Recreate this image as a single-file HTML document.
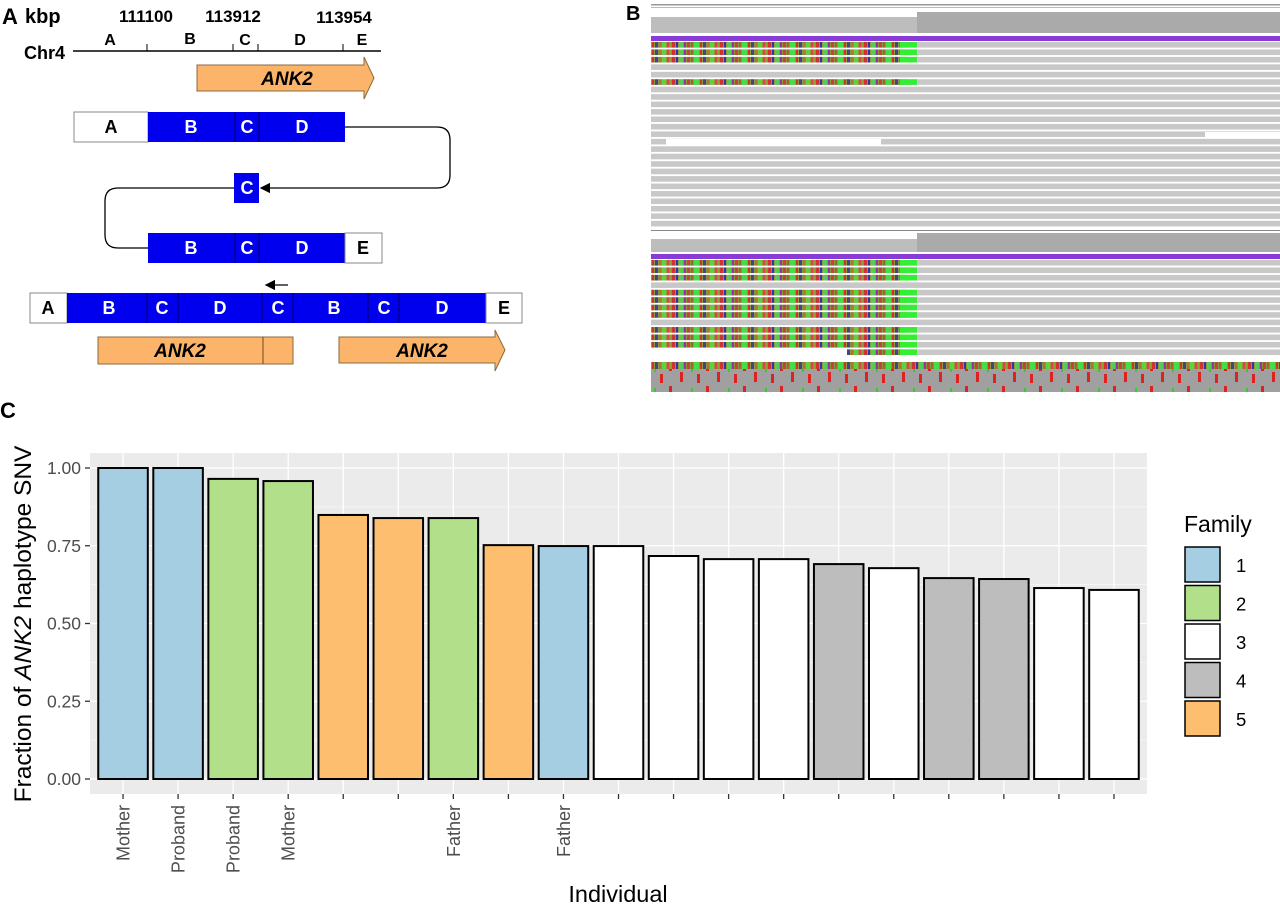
<!DOCTYPE html>
<html><head><meta charset="utf-8"><style>
html,body{margin:0;padding:0;background:#fff;}
svg{display:block;font-family:"Liberation Sans",Arial,sans-serif;}
</style></head><body>
<svg id="fig" width="1280" height="914" viewBox="0 0 1280 914">
<defs>
<pattern id="seq" width="48" height="8" patternUnits="userSpaceOnUse">
<rect width="48" height="8" fill="#8a9a3a"/>
<rect x="0" width="3" height="8" fill="#c33"/><rect x="4" width="2" height="8" fill="#33a"/>
<rect x="7" width="4" height="8" fill="#5c5"/><rect x="12" width="2" height="8" fill="#939"/>
<rect x="15" width="3" height="8" fill="#b44"/><rect x="19" width="2" height="8" fill="#963"/>
<rect x="22" width="5" height="8" fill="#4d4"/><rect x="28" width="2" height="8" fill="#c33"/>
<rect x="31" width="3" height="8" fill="#448"/><rect x="35" width="2" height="8" fill="#a73"/>
<rect x="38" width="4" height="8" fill="#6c4"/><rect x="43" width="2" height="8" fill="#d44"/>
</pattern>
<pattern id="snp" width="37" height="24" patternUnits="userSpaceOnUse">
<rect width="37" height="24" fill="#a0a0a0"/>
<rect x="3" y="2" width="3" height="9" fill="#d22"/><rect x="14" y="12" width="3" height="10" fill="#d22"/>
<rect x="25" y="4" width="2" height="8" fill="#3c3"/><rect x="31" y="14" width="3" height="9" fill="#d22"/>
</pattern>
<marker id="ah" markerWidth="8" markerHeight="8" refX="7" refY="4" orient="auto"><path d="M0,0 L8,4 L0,8 Z" fill="#000"/></marker>
</defs>

<!-- Panel A -->
<g font-weight="bold">
<text x="2" y="24" font-size="22">A</text>
<text x="25" y="23" font-size="20">kbp</text>
<text x="146" y="22" font-size="17" text-anchor="middle">111100</text>
<text x="233" y="22" font-size="17" text-anchor="middle">113912</text>
<text x="344" y="23" font-size="17" text-anchor="middle">113954</text>
<text x="24" y="59" font-size="18">Chr4</text>
<line x1="73" y1="51" x2="381" y2="51" stroke="#000" stroke-width="1.5"/>
<g stroke="#000" stroke-width="1"><line x1="147" y1="44" x2="147" y2="51"/><line x1="233" y1="44" x2="233" y2="51"/><line x1="258" y1="44" x2="258" y2="51"/><line x1="343" y1="44" x2="343" y2="51"/></g>
<g font-size="16" text-anchor="middle"><text x="110" y="45">A</text><text x="190" y="44">B</text><text x="245" y="45">C</text><text x="300" y="45">D</text><text x="362" y="45">E</text></g>
<path d="M197,65 H364 V57 L374,78 L364,99 V91 H197 Z" fill="#fbb469" stroke="#8a6a40"/>
<text x="287" y="85" font-size="19" font-style="italic" text-anchor="middle">ANK2</text>
<g font-size="18" text-anchor="middle">
<rect x="74" y="112" width="74" height="30" fill="#fff" stroke="#888"/>
<rect x="148" y="112" width="197" height="30" fill="#0000ee"/>
<line x1="235" y1="112" x2="235" y2="142" stroke="#000" stroke-width="0.6"/><line x1="259" y1="112" x2="259" y2="142" stroke="#000" stroke-width="0.6"/>
<text x="111" y="133">A</text><text x="191" y="133" fill="#fff">B</text><text x="247" y="133" fill="#fff">C</text><text x="302" y="133" fill="#fff">D</text>
<path d="M345,127 H437 Q450,127 450,140 V175 Q450,188 437,188 H261" fill="none" stroke="#000" stroke-width="1.3" marker-end="url(#ah)"/>
<rect x="234" y="173" width="25" height="30" fill="#0000ee"/><text x="247" y="194" fill="#fff">C</text>
<path d="M234,188 H118 Q105,188 105,201 V235 Q105,248 118,248 H148" fill="none" stroke="#000" stroke-width="1.3"/>
<rect x="148" y="233" width="197" height="30" fill="#0000ee"/>
<rect x="345" y="233" width="37" height="30" fill="#fff" stroke="#888"/>
<line x1="235" y1="233" x2="235" y2="263" stroke="#000" stroke-width="0.6"/><line x1="259" y1="233" x2="259" y2="263" stroke="#000" stroke-width="0.6"/>
<text x="191" y="254" fill="#fff">B</text><text x="247" y="254" fill="#fff">C</text><text x="302" y="254" fill="#fff">D</text><text x="363" y="254">E</text>
<line x1="288" y1="285" x2="266" y2="285" stroke="#000" stroke-width="1.3" marker-end="url(#ah)"/>
<rect x="30" y="293" width="37" height="30" fill="#fff" stroke="#888"/>
<rect x="67" y="293" width="419" height="30" fill="#0000ee"/>
<rect x="486" y="293" width="36" height="30" fill="#fff" stroke="#888"/>
<g stroke="#000" stroke-width="0.6"><line x1="147" y1="293" x2="147" y2="323"/><line x1="178" y1="293" x2="178" y2="323"/><line x1="262" y1="293" x2="262" y2="323"/><line x1="293" y1="293" x2="293" y2="323"/><line x1="368" y1="293" x2="368" y2="323"/><line x1="399" y1="293" x2="399" y2="323"/></g>
<text x="48" y="314">A</text><text x="109" y="314" fill="#fff">B</text><text x="162" y="314" fill="#fff">C</text><text x="220" y="314" fill="#fff">D</text><text x="278" y="314" fill="#fff">C</text><text x="334" y="314" fill="#fff">B</text><text x="384" y="314" fill="#fff">C</text><text x="442" y="314" fill="#fff">D</text><text x="504" y="314">E</text>
</g>
<rect x="98" y="337" width="195" height="27" fill="#fbb469" stroke="#8a6a40"/>
<line x1="263" y1="337" x2="263" y2="364" stroke="#6a4a20"/>
<text x="180" y="357" font-size="19" font-style="italic" text-anchor="middle">ANK2</text>
<path d="M339,337 H495 V330 L505,350 L495,371 V363 H339 Z" fill="#fbb469" stroke="#8a6a40"/>
<text x="422" y="357" font-size="19" font-style="italic" text-anchor="middle">ANK2</text>
</g>

<!-- Panel B -->
<g id="panelB">
<text x="626" y="20" font-size="20" font-weight="bold">B</text>
<rect x="651" y="4" width="629" height="1.5" fill="#999"/><rect x="651" y="7" width="629" height="1" fill="#bbb"/>
<rect x="651" y="17" width="266" height="16" fill="#bdbdbd"/><rect x="917" y="12" width="363" height="21" fill="#aaa"/>
<rect x="651" y="36" width="629" height="5" fill="#8a3ad6"/>
<rect x="651" y="230" width="629" height="1" fill="#888"/>
<rect x="651" y="239" width="266" height="13" fill="#bdbdbd"/><rect x="917" y="233" width="363" height="19" fill="#aaa"/>
<rect x="651" y="254" width="629" height="5" fill="#8a3ad6"/>
<rect x="651" y="362" width="629" height="7" fill="url(#seq)"/>
<rect x="651" y="369" width="629" height="23" fill="url(#snp)"/>
</g>

<!-- Panel C -->
<text x="0" y="418" font-size="22" font-weight="bold">C</text>
<g id="chart"></g>
</svg>
<script>
const categories = ["Mother","Proband","Proband","Mother","","","Father","","Father","","","","","","","","","",""];
const values = [1.0,1.0,0.965,0.958,0.849,0.839,0.839,0.752,0.749,0.749,0.717,0.707,0.707,0.691,0.678,0.646,0.643,0.614,0.608];
const families = [1,1,2,2,5,5,2,5,1,3,3,3,3,4,3,4,4,3,3];
const familyLevels = [1,2,3,4,5];
const familyColors = ["#a6cee3","#b2df8a","#ffffff","#bdbdbd","#fdbf6f"];
const yTicks = [0,0.25,0.5,0.75,1.0];
const yTickLabels = ["0.00","0.25","0.50","0.75","1.00"];

const NS = "http://www.w3.org/2000/svg";
function mk(tag, attrs, parent){const e=document.createElementNS(NS,tag);for(const k in attrs)e.setAttribute(k,attrs[k]);parent.appendChild(e);return e;}

(function(){
  const g=document.getElementById('panelB');
  const topColor=[0,1,2,5];
  for(let i=0;i<25;i++){
    const y=42+i*7.45;
    mk('rect',{x:651,y:y,width:629,height:5.6,fill:'#c8c8c8'},g);
    if(topColor.includes(i)){mk('rect',{x:651,y:y,width:255,height:5.6,fill:'url(#seq)'},g);mk('rect',{x:900,y:y,width:17,height:5.6,fill:'#3e3'},g);}
  }
  mk('rect',{x:666,y:139,width:215,height:6,fill:'#fff'},g);
  mk('rect',{x:1205,y:132,width:75,height:6,fill:'#fff'},g);
  const botColor=[0,1,2,4,5,6,7,9,10,11];
  for(let i=0;i<13;i++){
    const y=260+i*7.45;
    mk('rect',{x:651,y:y,width:629,height:5.6,fill:'#c8c8c8'},g);
    if(botColor.includes(i)){mk('rect',{x:651,y:y,width:255,height:5.6,fill:'url(#seq)'},g);mk('rect',{x:900,y:y,width:17,height:5.6,fill:'#3e3'},g);}
  }
  mk('rect',{x:651,y:349.4,width:196,height:5.6,fill:'#fff'},g);
  mk('rect',{x:847,y:349.4,width:60,height:5.6,fill:'url(#seq)'},g);
  mk('rect',{x:900,y:349.4,width:17,height:5.6,fill:'#3e3'},g);
})();

const chart=document.getElementById('chart');
const pl=90, pr=1147, pt=453, pb=794;
const y0=779, y1=468;
function yScale(v){return y0-(y0-y1)*v;}
const step=(pr-pl)/(categories.length+0.2);
function xScale(i){return pl+step*(0.6+i);}
const bw=step*0.9;

const panel=mk('rect',{x:pl,y:pt,width:pr-pl,height:pb-pt,fill:'#ebebeb'},chart);


for(let k=0;k<yTicks.length-1;k++){
  const v=(yTicks[k]+yTicks[k+1])/2;
  mk('line',{x1:pl,x2:pr,y1:yScale(v),y2:yScale(v),stroke:'#fff','stroke-width':0.6},chart);
}
yTicks.forEach((v,k)=>{
  const y=yScale(v);
  mk('line',{x1:pl,x2:pr,y1:y,y2:y,stroke:'#fff','stroke-width':1.3},chart);
  mk('line',{x1:pl-5,x2:pl,y1:y,y2:y,stroke:'#333','stroke-width':1.3},chart);
  const t=mk('text',{x:pl-9,y:y+6,'text-anchor':'end','font-size':17.5,fill:'#4d4d4d'},chart);
  t.textContent=yTickLabels[k];
  
  
});
categories.forEach((c,i)=>{
  const x=xScale(i);
  mk('line',{x1:x,x2:x,y1:pt,y2:pb,stroke:'#fff','stroke-width':1.3},chart);
  mk('line',{x1:x,x2:x,y1:pb,y2:pb+5,stroke:'#333','stroke-width':1.3},chart);
});
values.forEach((v,i)=>{
  const x=xScale(i);
  const col=familyColors[familyLevels.indexOf(families[i])];
  const r=mk('rect',{x:x-bw/2,y:yScale(v),width:bw,height:yScale(0)-yScale(v),fill:col,stroke:'#000','stroke-width':2},chart);
  
  
  if(categories[i]){
    const t=mk('text',{x:0,y:0,transform:'translate('+(x+6.5)+','+(pb+11)+') rotate(-90)','text-anchor':'end','font-size':18,fill:'#4d4d4d'},chart);
    t.textContent=categories[i];
    
    
  }
});
const yt=mk('text',{x:0,y:0,transform:'translate(31,624) rotate(-90)','text-anchor':'middle','font-size':24.5,fill:'#000'},chart);
yt.innerHTML='Fraction of <tspan font-style="italic">ANK2</tspan> haplotype SNV';


const xt=mk('text',{x:618,y:902,'text-anchor':'middle','font-size':23.5,fill:'#000'},chart);
xt.textContent='Individual';


const lt=mk('text',{x:1184,y:532,'font-size':23,fill:'#000'},chart);
lt.textContent='Family';


familyLevels.forEach((f,k)=>{
  const y=547+k*38.5;
  const r=mk('rect',{x:1185,y:y,width:35,height:35,fill:familyColors[k],stroke:'#000','stroke-width':1.5},chart);
  
  
  const t=mk('text',{x:1236,y:y+25,'font-size':18.5,fill:'#000'},chart);
  t.textContent=String(f);
  
  
});
</script>
</body></html>
